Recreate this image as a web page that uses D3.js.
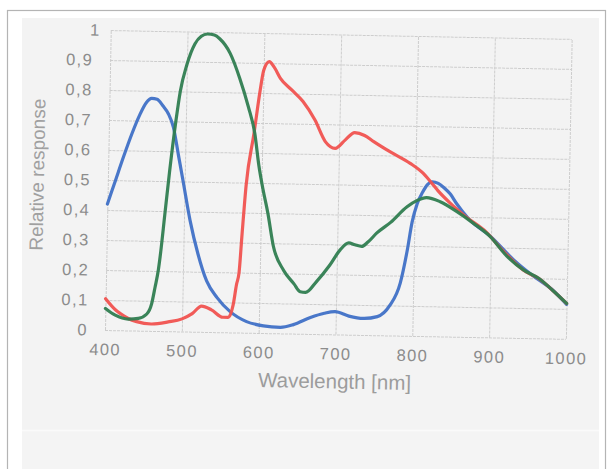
<!DOCTYPE html>
<html><head><meta charset="utf-8">
<script src="https://cdn.jsdelivr.net/npm/d3@7"></script>
<style>html,body{margin:0;padding:0;background:#fff;}svg{display:block;}</style>
</head><body>
<svg id="c" width="613" height="469"></svg>
<script>
const xTicks = [400,500,600,700,800,900,1000];
const yTicks = [0,0.1,0.2,0.3,0.4,0.5,0.6,0.7,0.8,0.9,1];
const yTickLabels = ["0","0,1","0,2","0,3","0,4","0,5","0,6","0,7","0,8","0,9","1"];
const xTitle = "Wavelength [nm]";
const yTitle = "Relative response";

const blueNm  = [400,410,420,430,440,448,455,462,470,477,484,491,498,508,519,531,545,562,584,606,628,645,667,685,699,717,736,754,770,783,791,797,803,810,816,822,830,838,846,854,870,900,930,960,980,1000];
const blueVal = [.42,.50,.58,.655,.72,.76,.775,.772,.75,.725,.68,.59,.50,.37,.26,.17,.115,.07,.037,.024,.02,.03,.055,.07,.076,.062,.055,.062,.10,.175,.28,.38,.44,.48,.505,.515,.51,.495,.475,.445,.395,.335,.26,.20,.165,.115];
const greenNm  = [400,413,430,443,454,460,464,468,470,475,480,487,492,500,510,518,526,535,542,556,569,581,590,596,602,609,617,631,645,653,660,674,691,704,715,723,732,740,751,769,790,803,815,833,855,877,899,921,943,963,981,1000];
const greenVal = [.072,.05,.038,.041,.056,.09,.145,.205,.25,.39,.53,.70,.80,.89,.96,.985,.993,.99,.978,.93,.848,.753,.665,.56,.48,.40,.29,.21,.165,.14,.138,.175,.231,.282,.306,.30,.295,.31,.34,.377,.43,.452,.462,.449,.417,.379,.336,.272,.227,.20,.162,.118];
const redNm  = [400,413,420,430,441,460,482,500,513,525,538,553,560,566,570,573,576,580,589,596,600,607,614,622,637,652,668,682,695,708,720,733,745,768,793,810,820,830,846,867,893,915,946,963,981,1000];
const redVal = [.104,.068,.055,.04,.03,.023,.031,.042,.06,.086,.074,.05,.05,.09,.16,.20,.33,.49,.665,.81,.875,.905,.885,.85,.812,.774,.713,.642,.62,.649,.674,.665,.645,.61,.575,.543,.515,.485,.445,.40,.352,.292,.221,.20,.162,.118];

const series = [
  {nm: blueNm, val: blueVal, color: "#3f70c6"},
  {nm: redNm, val: redVal, color: "#f0524f"},
  {nm: greenNm, val: greenVal, color: "#2f7d50"}
];

const svg = d3.select("#c");
// page / scan background
svg.append("rect").attr("x",0).attr("y",0).attr("width",613).attr("height",469).attr("fill","#fff");
svg.append("rect").attr("x",7.5).attr("y",10.5).attr("width",598).attr("height",470)
   .attr("fill","#fff").attr("stroke","#b4b4b4").attr("stroke-width",1.2);
svg.append("rect").attr("x",22).attr("y",18).attr("width",577).attr("height",451).attr("fill","#f3f3f3");
svg.append("rect").attr("x",22).attr("y",431).attr("width",577).attr("height",38).attr("fill","#f4f4f4");
svg.append("line").attr("x1",22).attr("x2",599).attr("y1",430.5).attr("y2",430.5).attr("stroke","#fafafa").attr("stroke-width",1.5);

const L = 105, R = 566, T = 30, B = 330;
const x = d3.scaleLinear().domain([400,1000]).range([L,R]);
const y = d3.scaleLinear().domain([0,1]).range([B,T]);

const g = svg.append("g").attr("transform","rotate(1.1,105,330)");

// grid
const gx = g.append("g").attr("transform",`translate(0,${B})`)
  .call(d3.axisBottom(x).tickValues(xTicks).tickSize(-(B-T)).tickFormat(d=>d).tickPadding(12));
const gy = g.append("g").attr("transform",`translate(${L},0)`)
  .call(d3.axisLeft(y).tickValues(yTicks).tickSize(-(R-L)).tickFormat((d,i)=>yTickLabels[i]).tickPadding(17));
[gx,gy].forEach(a=>{
  a.select(".domain").remove();
  a.selectAll(".tick line").attr("stroke","#cdcdcd").attr("stroke-width",1).attr("stroke-dasharray","3,1");
  a.selectAll(".tick text").attr("fill","#8c8c8c").attr("font-family","Liberation Sans, Arial, sans-serif")
   .attr("font-size",16.5).attr("letter-spacing",1.4);
});
gx.selectAll(".tick text").attr("dy","0.8em");
gy.selectAll(".tick text").filter(d=>d===1).attr("dx",7);

// curves
const line = d3.line().x(d=>x(d[0])).y(d=>y(d[1])).curve(d3.curveMonotoneX);
series.forEach(s=>{
  g.append("path").datum(d3.zip(s.nm,s.val)).attr("d",line)
   .attr("fill","none").attr("stroke",s.color).attr("stroke-width",3.2)
   .attr("stroke-linejoin","round").attr("stroke-linecap","round").attr("opacity",0.95);
});

// titles
g.append("text").attr("x",(L+R)/2+0).attr("y",384).attr("text-anchor","middle")
  .attr("font-family","Liberation Sans, Arial, sans-serif").attr("font-size",20.5)
  .attr("fill","#9c9c9c").text(xTitle);
g.append("text").attr("transform","translate(41,176) rotate(-90)").attr("text-anchor","middle")
  .attr("font-family","Liberation Sans, Arial, sans-serif").attr("font-size",19)
  .attr("fill","#a0a0a0").text(yTitle);
</script>
</body></html>
